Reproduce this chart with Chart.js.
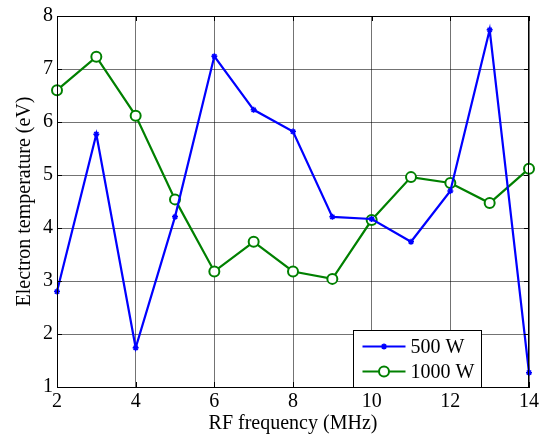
<!DOCTYPE html>
<html>
<head>
<meta charset="utf-8">
<script src="https://cdn.jsdelivr.net/npm/chart.js@4/dist/chart.umd.min.js"></script>
<style>
  body { margin: 0; background: #fff; }
  #wrap { width: 542px; height: 436px; }
</style>
</head>
<body>
<div id="wrap"><canvas id="chart" width="542" height="436"></canvas></div>
<script>
// data
var freqMHz = [2, 3, 4, 5, 6, 7, 8, 9, 10, 11, 12, 13, 14];
var te500W = [2.80, 5.77, 1.74, 4.21, 7.24, 6.23, 5.82, 4.21, 4.17, 3.74, 4.70, 7.74, 1.27];
var te1000W = [6.60, 7.23, 6.12, 4.54, 3.18, 3.74, 3.18, 3.04, 4.15, 4.96, 4.85, 4.47, 5.12];
var seriesLabels = ['500 W', '1000 W'];
var xTicks = [2, 4, 6, 8, 10, 12, 14];
var yTicks = [1, 2, 3, 4, 5, 6, 7, 8];

var FONT = 'Liberation Serif';

function toPoints(xs, ys) {
  var pts = [];
  for (var i = 0; i < xs.length; i++) {
    pts.push({ x: xs[i], y: ys[i] });
  }
  return pts;
}

// frame on top/right + inward ticks on all sides (matlab look)
var framePlugin = {
  id: 'frame',
  afterDraw: function (chart) {
    var ctx = chart.ctx;
    var a = chart.chartArea;
    var xs = chart.scales.x, ys = chart.scales.y;
    ctx.save();
    ctx.strokeStyle = '#000';
    ctx.lineWidth = 1;
    ctx.strokeRect(Math.round(a.left) + 0.5, Math.round(a.top) + 0.5,
      Math.round(a.right - a.left) - 1, Math.round(a.bottom - a.top));
    ctx.beginPath();
    xTicks.forEach(function (v) {
      var px = Math.round(xs.getPixelForValue(v)) + 0.5;
      ctx.moveTo(px, a.bottom); ctx.lineTo(px, a.bottom - 5);
      ctx.moveTo(px, a.top); ctx.lineTo(px, a.top + 5);
    });
    yTicks.forEach(function (v) {
      var py = Math.round(ys.getPixelForValue(v)) + 0.5;
      ctx.moveTo(a.left, py); ctx.lineTo(a.left + 5, py);
      ctx.moveTo(a.right, py); ctx.lineTo(a.right - 5, py);
    });
    ctx.stroke();
    ctx.restore();
  }
};

// legend box inside the plot, bottom right
var legendPlugin = {
  id: 'boxLegend',
  afterDraw: function (chart) {
    var ctx = chart.ctx;
    var a = chart.chartArea;
    var w = 128, h = 57;
    var x0 = Math.round(a.right - 48 - w) + 0.5;
    var y0 = Math.round(a.bottom - h) + 0.5;
    ctx.save();
    ctx.fillStyle = '#fff';
    ctx.fillRect(x0, y0, w, h);
    ctx.strokeStyle = '#000';
    ctx.lineWidth = 1;
    ctx.strokeRect(x0, y0, w, h);
    chart.data.datasets.forEach(function (ds, i) {
      var ly = y0 + 16 + i * 25;
      var lx1 = x0 + 9, lx2 = x0 + 52;
      ctx.strokeStyle = ds.borderColor;
      ctx.lineWidth = ds.borderWidth;
      ctx.beginPath();
      ctx.moveTo(lx1, ly); ctx.lineTo(lx2, ly);
      ctx.stroke();
      ctx.fillStyle = ds.pointBackgroundColor;
      ctx.lineWidth = ds.pointBorderWidth;
      Chart.helpers.drawPoint(ctx, {
        pointStyle: ds.pointStyle,
        radius: ds.pointRadius,
        borderWidth: ds.pointBorderWidth,
        rotation: 0
      }, (lx1 + lx2) / 2, ly);
      ctx.fillStyle = '#000';
      ctx.font = '20px "' + FONT + '"';
      ctx.textBaseline = 'middle';
      ctx.textAlign = 'left';
      ctx.fillText(ds.label, lx2 + 5, ly + 1);
    });
    ctx.restore();
  }
};

var gridColor = 'rgba(0,0,0,0.55)';

new Chart(document.getElementById('chart'), {
  type: 'line',
  data: {
    datasets: [{
      label: seriesLabels[0],
      data: toPoints(freqMHz, te500W),
      borderColor: '#0000ff',
      backgroundColor: '#0000ff',
      borderWidth: 2.2,
      pointStyle: 'star',
      pointRadius: 3,
      pointBorderWidth: 1.5,
      pointBackgroundColor: '#0000ff',
      tension: 0,
      clip: false
    }, {
      label: seriesLabels[1],
      data: toPoints(freqMHz, te1000W),
      borderColor: '#008000',
      backgroundColor: '#008000',
      borderWidth: 2.2,
      pointStyle: 'circle',
      pointRadius: 5,
      pointBorderWidth: 2,
      pointBackgroundColor: '#ffffff',
      tension: 0,
      clip: false
    }]
  },
  options: {
    responsive: false,
    animation: false,
    devicePixelRatio: 1,
    layout: { padding: { top: 14, right: 10, left: 0, bottom: 0 } },
    plugins: {
      legend: { display: false },
      tooltip: { enabled: false }
    },
    scales: {
      x: {
        type: 'linear',
        min: 2, max: 14,
        afterFit: function (s) { s.height = 49; },
        afterBuildTicks: function (s) { s.ticks = xTicks.map(function (v) { return { value: v }; }); },
        grid: { color: gridColor, drawTicks: false },
        border: { color: '#000', width: 1 },
        ticks: { color: '#000', padding: 3, maxRotation: 0, font: { family: FONT, size: 20 } },
        title: {
          display: true,
          text: 'RF frequency (MHz)',
          color: '#000',
          font: { family: FONT, size: 20 },
          padding: { top: 0, bottom: 0 }
        }
      },
      y: {
        min: 1, max: 8,
        afterFit: function (s) { s.width = 57; },
        afterBuildTicks: function (s) { s.ticks = yTicks.map(function (v) { return { value: v }; }); },
        grid: { color: gridColor, drawTicks: false },
        border: { color: '#000', width: 1 },
        ticks: { color: '#000', padding: 4, font: { family: FONT, size: 20 } },
        title: {
          display: true,
          text: 'Electron temperature (eV)',
          color: '#000',
          font: { family: FONT, size: 20 },
          padding: { top: 13, bottom: 0 }
        }
      }
    }
  },
  plugins: [framePlugin, legendPlugin]
});
</script>
</body>
</html>
